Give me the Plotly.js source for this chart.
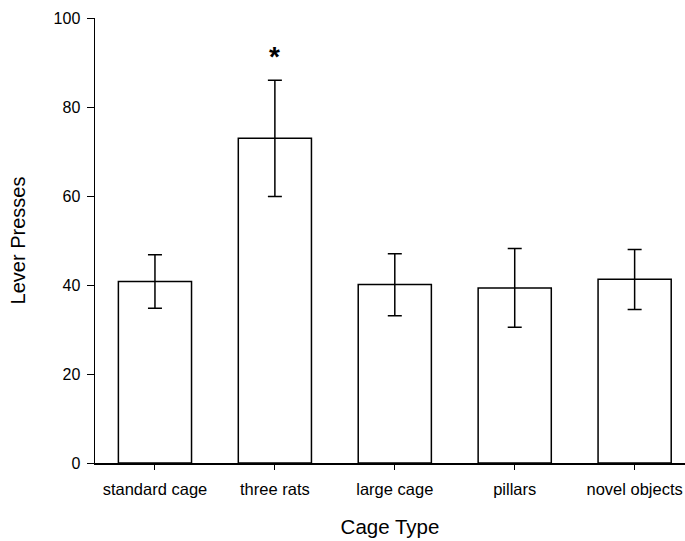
<!DOCTYPE html>
<html>
<head>
<meta charset="utf-8">
<script src="https://cdn.plot.ly/plotly-3.0.1.min.js"></script>
<style>html,body{margin:0;padding:0;background:#fff;}#chart{width:685px;height:541px;}</style>
</head>
<body>
<div id="chart"></div>
<script>
const categories = ['standard cage', 'three rats', 'large cage', 'pillars', 'novel objects'];
const leverPresses = [40.8, 73.0, 40.1, 39.3, 41.3];
const errorUpper = [46.8, 86.0, 47.0, 48.2, 48.0];
const errorLower = [34.8, 59.9, 33.1, 30.5, 34.5];
const significance = ['', '*', '', '', ''];
const yTicks = [0, 20, 40, 60, 80, 100];

const errPlus = leverPresses.map((v, i) => errorUpper[i] - v);
const errMinus = leverPresses.map((v, i) => v - errorLower[i]);

const trace = {
  type: 'bar',
  x: categories,
  y: leverPresses,
  width: 0.61,
  marker: {color: '#ffffff', line: {color: '#000000', width: 1.5}},
  error_y: {type: 'data', symmetric: false, array: errPlus, arrayminus: errMinus,
            color: '#000000', thickness: 1.5, width: 7},
  hoverinfo: 'none'
};

const annotations = [];
significance.forEach((s, i) => {
  if (s) {
    annotations.push({x: categories[i], y: errorUpper[i], xref: 'x', yref: 'y',
      text: '<b>' + s + '</b>', showarrow: false, yanchor: 'bottom', yshift: 6,
      font: {family: 'Liberation Sans, Arial, sans-serif', size: 28, color: '#000'}});
  }
});

const layout = {
  width: 685, height: 541,
  margin: {l: 95, r: 0, t: 18, b: 78},
  paper_bgcolor: '#fff', plot_bgcolor: '#fff',
  showlegend: false,
  font: {family: 'Liberation Sans, Arial, sans-serif', color: '#000', size: 16},
  xaxis: {
    type: 'category', range: [-0.5, 4.42],
    showline: true, linecolor: '#000', linewidth: 1.5,
    ticks: 'outside', ticklen: 5, tickcolor: '#000', tickwidth: 1,
    showgrid: false, zeroline: false,
    tickfont: {size: 16.5}, ticklabelstandoff: 6,
    title: {text: 'Cage Type', font: {size: 20.5}, standoff: 22}
  },
  yaxis: {
    range: [0, 100], tickvals: yTicks, ticktext: yTicks.map(String),
    showline: true, linecolor: '#000', linewidth: 1.5,
    ticks: 'outside', ticklen: 7, tickcolor: '#000', tickwidth: 1,
    showgrid: false, zeroline: false,
    tickfont: {size: 16}, ticklabelstandoff: 3,
    title: {text: 'Lever Presses', font: {size: 20}, standoff: 22}
  },
  annotations: annotations
};

Plotly.newPlot('chart', [trace], layout, {displayModeBar: false, staticPlot: true});
</script>
</body>
</html>
